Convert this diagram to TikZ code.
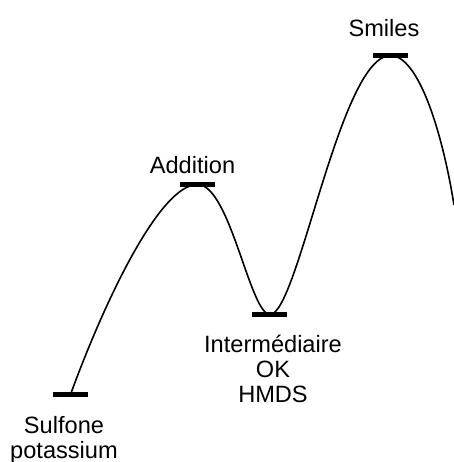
\documentclass[tikz,border=0pt]{standalone}
\usepackage{fontspec}
\setmainfont{Liberation Sans}
\usetikzlibrary{positioning}

\begin{document}
\begin{tikzpicture}[x=0.5pt, y=-0.5pt,
    level/.style={fill=black, inner sep=0pt, minimum width=17.5pt, minimum height=2.5pt},
    lbl/.style={font=\fontsize{11.8}{12.5}\selectfont, inner sep=0pt, align=center},
    path/.style={line width=0.8pt}
]
    \useasboundingbox (0,0) rectangle (454,462);

    \node[level] (s0) at (70.5,394.5) {};
    \node[level] (ts1) at (197.5,184.5) {};
    \node[level] (int) at (270,314.5) {};
    \node[level] (ts2) at (390.5,55.5) {};
    \coordinate (out) at (454,205);

    \node[lbl, anchor=north] (l0) at (64,416) {Sulfone\\potassium};
    \node[lbl, anchor=base] (l1) at (192.5,173) {Addition};
    \node[lbl, anchor=north] (l2) at (273,334.5) {Intermédiaire\\OK\\HMDS};
    \node[lbl, anchor=base] (l3) at (384,36) {Smiles};

    \draw[path] (s0.center) .. controls (105,300) and (160,184.5) .. (ts1.center)
        .. controls (230,184.5) and (250,314.5) .. (int.center)
        .. controls (298,314.5) and (340,55.5) .. (ts2.center)
        .. controls (418,55.5) and (442,130) .. (out);
\end{tikzpicture}
\end{document}
